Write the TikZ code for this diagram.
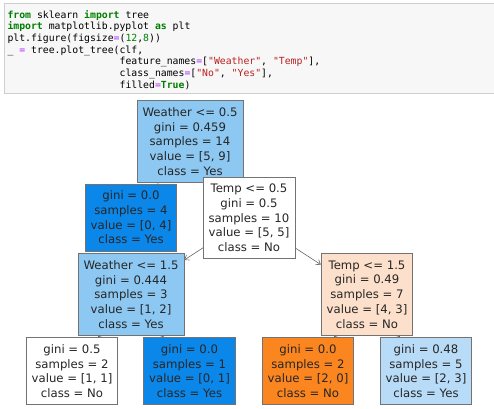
\documentclass[tikz,border=0pt]{standalone}
\usepackage{fontspec}
\setmainfont{DejaVu Sans}
\setmonofont{DejaVu Sans Mono}
\usetikzlibrary{arrows.meta, positioning, backgrounds}
\definecolor{cellgray}{HTML}{F7F7F7}
\definecolor{cellborder}{HTML}{CFCFCF}
\definecolor{kwgreen}{HTML}{008000}
\definecolor{opviolet}{HTML}{AA22FF}
\definecolor{strred}{HTML}{BA2121}
\definecolor{yesblue}{HTML}{0B87EA}
\definecolor{yeslight}{HTML}{8DC8F3}
\definecolor{yespale}{HTML}{B8DBF7}
\definecolor{noorange}{HTML}{FB8620}
\definecolor{nopeach}{HTML}{FDE0CB}
\newcommand{\pykw}[1]{\textbf{\textcolor{kwgreen}{#1}}}
\newcommand{\pyop}[1]{\textcolor{opviolet}{#1}}
\newcommand{\pynum}[1]{\textcolor{kwgreen}{#1}}
\newcommand{\pystr}[1]{\textcolor{strred}{#1}}

\begin{document}
\begin{tikzpicture}[
        x=1pt, y=-1pt,
        treebox/.style={draw=black!55, line width=0.7pt, align=center, text=black!85, font=\fontsize{11.7}{14.7}\selectfont, inner xsep=5.5pt, inner ysep=7pt},
        arrow/.style={-{Straight Barb[length=4pt, width=6pt]}, black!60, line width=0.6pt}
    ]
        \useasboundingbox (0,0) rectangle (494,408);
        % code cell
        \filldraw[fill=cellgray, draw=cellborder] (4.5,3.5) rectangle (500,93.5);
        \node[anchor=north west, inner sep=0pt, align=left, font=\fontsize{9.8}{11.65}\selectfont\ttfamily] (code) at (7.3,10) {%
            \pykw{from} sklearn \pykw{import} tree\\
            \pykw{import} matplotlib.pyplot \pykw{as} plt\\
            plt.figure(figsize\pyop{=}(\pynum{12},\pynum{8}))\\
            \_ \pyop{=} tree.plot\_tree(clf,\\
            \phantom{\_ = tree.plot\_tree(}feature\_names\pyop{=}[\pystr{"Weather"}, \pystr{"Temp"}],\\
            \phantom{\_ = tree.plot\_tree(}class\_names\pyop{=}[\pystr{"No"}, \pystr{"Yes"}],\\
            \phantom{\_ = tree.plot\_tree(}filled\pyop{=}\pykw{True})};

        % tree
        \node[treebox, fill=yeslight] (root) at (190,141.5) {Weather <= 0.5\\gini = 0.459\\samples = 14\\value = [5, 9]\\class = Yes};
        \node[treebox, fill=yesblue] (leafA) at (131,217.5) {gini = 0.0\\samples = 4\\value = [0, 4]\\class = Yes};
        \node[treebox, fill=white] (temp05) at (249,218) {Temp <= 0.5\\gini = 0.5\\samples = 10\\value = [5, 5]\\class = No};
        \node[treebox, fill=yeslight] (weather15) at (131,294.5) {Weather <= 1.5\\gini = 0.444\\samples = 3\\value = [1, 2]\\class = Yes};
        \node[treebox, fill=white] (leafB) at (72,371) {gini = 0.5\\samples = 2\\value = [1, 1]\\class = No};
        \node[treebox, fill=yesblue] (leafC) at (189.5,371) {gini = 0.0\\samples = 1\\value = [0, 1]\\class = Yes};
        \node[treebox, fill=nopeach] (temp15) at (367,294.5) {Temp <= 1.5\\gini = 0.49\\samples = 7\\value = [4, 3]\\class = No};
        \node[treebox, fill=noorange] (leafD) at (308,371) {gini = 0.0\\samples = 2\\value = [2, 0]\\class = No};
        \node[treebox, fill=yespale] (leafE) at (426,371) {gini = 0.48\\samples = 5\\value = [2, 3]\\class = Yes};

        \begin{scope}[on background layer]
            \draw[arrow] (root.center) -- (leafA);
            \draw[arrow] (root.center) -- (temp05);
            \draw[arrow] (temp05.center) -- (weather15);
            \draw[arrow] (temp05.center) -- (temp15);
            \draw[arrow] (weather15.center) -- (leafB);
            \draw[arrow] (weather15.center) -- (leafC);
            \draw[arrow] (temp15.center) -- (leafD);
            \draw[arrow] (temp15.center) -- (leafE);
        \end{scope}
    \end{tikzpicture}
\end{document}
